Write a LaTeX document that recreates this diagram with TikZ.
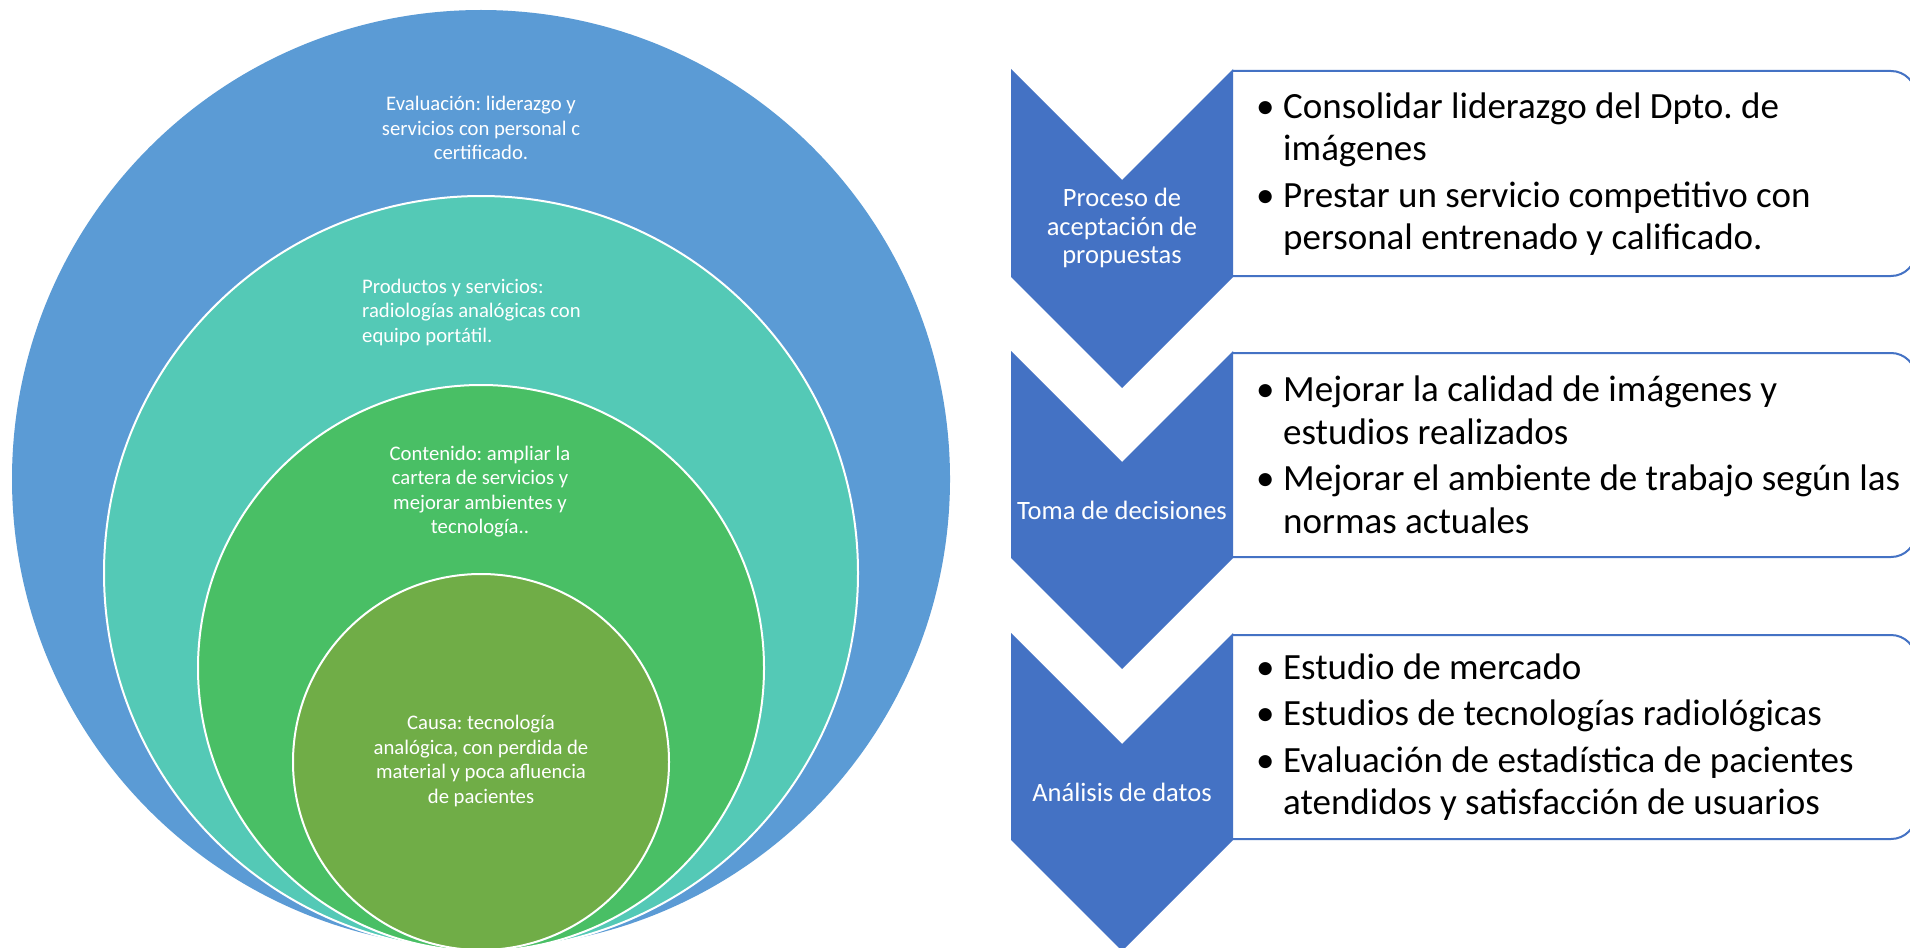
\documentclass[tikz,border=0pt]{standalone}
\usepackage{fontspec}
\setmainfont{Carlito}
\frenchspacing
\definecolor{chevblue}{HTML}{4472C4}
\definecolor{ringblue}{HTML}{5B9BD5}
\definecolor{ringteal}{HTML}{54C9B6}
\definecolor{ringgreen}{HTML}{49BF65}
\definecolor{ringolive}{HTML}{70AD47}
\begin{document}
\begin{tikzpicture}[x=1pt,y=-1pt,
  ring/.style={draw=white, line width=2pt},
  circtext/.style={text=white, font=\fontsize{20.7}{24.5}\selectfont, inner sep=0pt},
  chevshape/.style={fill=chevblue, draw=none},
  chevtext/.style={text=white, font=\fontsize{26.5}{28.5}\selectfont, inner sep=0pt, align=center},
  listbox/.style={draw=chevblue, line width=2pt, fill=white, rounded corners=25pt},
  listtext/.style={text=black, font=\fontsize{37}{42.5}\selectfont, inner sep=0pt, align=left, anchor=west}
]
\useasboundingbox (0,0) rectangle (1910,947);
\clip (0,0) rectangle (1910,947);
\fill[white] (0,0) rectangle (1910,947);

% stacked circles
\filldraw[ring, fill=ringblue, draw=none] (481,479) circle[radius=469pt];
\filldraw[ring, fill=ringteal] (481,573) circle[radius=377pt];
\filldraw[ring, fill=ringgreen] (481,668) circle[radius=283pt];
\filldraw[ring, fill=ringolive] (481,762) circle[radius=188pt];

\node[circtext, align=center] (eval) at (481,128) {Evaluación: liderazgo y\\servicios con personal c\\certificado.};
\node[circtext, align=left, anchor=west] (prod) at (362,312) {Productos y servicios:\\radiologías analógicas con\\equipo portátil.};
\node[circtext, align=center] (cont) at (480,491.5) {Contenido: ampliar la\\cartera de servicios y\\mejorar ambientes y\\tecnología..};
\node[circtext, align=center] (causa) at (481,761) {Causa: tecnología\\analógica, con perdida de\\material y poca afluencia\\de pacientes};

% list boxes
\draw[listbox] (1233,71) -- (1916,71) -- (1916,276) -- (1233,276);
\draw[listbox] (1233,353) -- (1916,353) -- (1916,557) -- (1233,557);
\draw[listbox] (1233,635) -- (1916,635) -- (1916,839) -- (1233,839);

% chevrons
\fill[chevshape] (1011,69) -- (1122,180) -- (1233,69) -- (1233,277) -- (1122,388) -- (1011,277) -- cycle;
\fill[chevshape] (1011,351) -- (1122,462) -- (1233,351) -- (1233,558) -- (1122,669) -- (1011,558) -- cycle;
\fill[chevshape] (1011,633) -- (1122,744) -- (1233,633) -- (1233,840) -- (1122,951) -- (1011,840) -- cycle;

\node[chevtext] (c1) at (1122,228) {Proceso de\\aceptación de\\propuestas};
\node[chevtext] (c2) at (1122,510) {Toma de decisiones};
\node[chevtext] (c3) at (1122,792) {Análisis de datos};

\node[listtext] (l1) at (1256,174) {\makebox[27pt][l]{\textbullet}Consolidar liderazgo del Dpto. de\\\hspace*{27pt}imágenes\\[4pt]\makebox[27pt][l]{\textbullet}Prestar un servicio competitivo con\\\hspace*{27pt}personal entrenado y calificado.};
\node[listtext] (l2) at (1256,455) {\makebox[27pt][l]{\textbullet}Mejorar la calidad de imágenes y\\\hspace*{27pt}estudios realizados\\[4pt]\makebox[27pt][l]{\textbullet}Mejorar el ambiente de trabajo según las\\\hspace*{27pt}normas actuales};
\node[listtext] (l3) at (1256,737) {\makebox[27pt][l]{\textbullet}Estudio de mercado\\[4pt]\makebox[27pt][l]{\textbullet}Estudios de tecnologías radiológicas\\[4pt]\makebox[27pt][l]{\textbullet}Evaluación de estadística de pacientes\\\hspace*{27pt}atendidos y satisfacción de usuarios};
\end{tikzpicture}
\end{document}
